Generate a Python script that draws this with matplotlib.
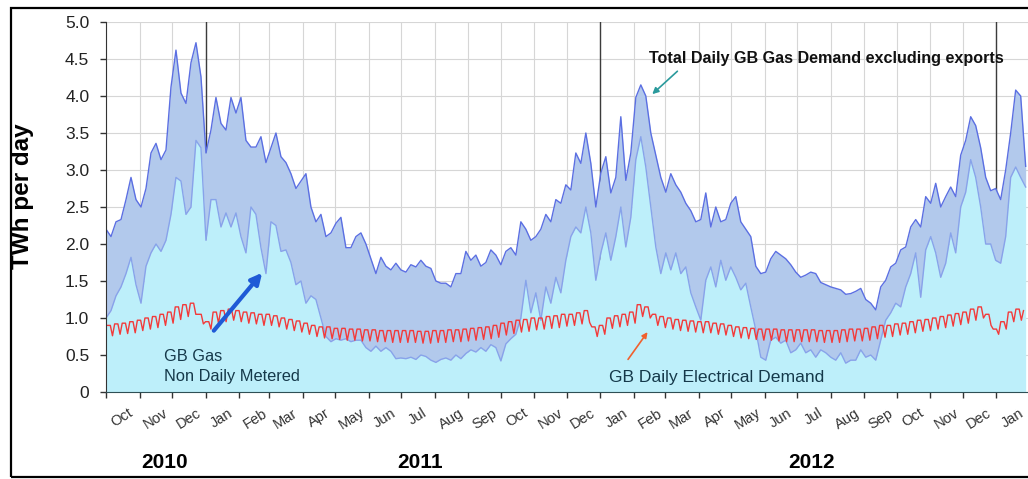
import matplotlib
matplotlib.use("Agg")
import matplotlib.pyplot as plt
import matplotlib.dates as mdates
from matplotlib.patches import Rectangle
from matplotlib.ticker import NullFormatter
import numpy as np
import pandas as pd

plt.rcParams.update({
    "font.family": ["Liberation Sans", "DejaVu Sans"],
    "font.size": 11,
})

# gas series at even steps from 1 Oct 2010 to 28 Jan 2013
gas_start = "2010-10-01"
gas_end = "2013-01-28"

total_demand = [
    2.2, 2.1, 2.3, 2.33, 2.6, 2.9, 2.6, 2.5, 2.75, 3.23,
    3.36, 3.14, 3.27, 4.12, 4.62, 4.04, 3.9, 4.45, 4.72, 4.26,
    3.23, 3.54, 3.98, 3.63, 3.54, 3.98, 3.77, 3.98, 3.4, 3.31,
    3.31, 3.45, 3.1, 3.3, 3.5, 3.18, 3.1, 2.95, 2.75, 2.85,
    2.95, 2.5, 2.3, 2.4, 2.1, 2.15, 2.28, 2.36, 1.95, 1.95,
    2.1, 2.15, 2.0, 1.8, 1.6, 1.82, 1.7, 1.65, 1.74, 1.65,
    1.62, 1.72, 1.69, 1.78, 1.7, 1.67, 1.5, 1.47, 1.47, 1.42,
    1.6, 1.6, 1.9, 1.78, 1.85, 1.7, 1.75, 1.92, 1.85, 1.72,
    1.9, 1.95, 1.85, 2.3, 2.2, 2.05, 2.1, 2.2, 2.4, 2.3,
    2.6, 2.55, 2.8, 2.73, 3.23, 3.09, 3.5, 3.09, 2.5, 2.96,
    3.18, 2.69, 2.9, 3.72, 2.86, 3.23, 3.98, 4.15, 4.0, 3.5,
    3.2, 2.9, 2.7, 2.95, 2.8, 2.7, 2.55, 2.45, 2.3, 2.33,
    2.69, 2.23, 2.5, 2.3, 2.33, 2.55, 2.64, 2.3, 2.2, 2.1,
    1.7, 1.6, 1.62, 1.8, 1.9, 1.85, 1.8, 1.72, 1.62, 1.55,
    1.58, 1.62, 1.6, 1.48, 1.45, 1.42, 1.4, 1.38, 1.32, 1.33,
    1.36, 1.4, 1.25, 1.2, 1.11, 1.42, 1.51, 1.69, 1.74, 1.92,
    1.96, 2.23, 2.33, 2.23, 2.64, 2.55, 2.82, 2.5, 2.64, 2.77,
    2.64, 3.2, 3.4, 3.72, 3.6, 3.3, 2.9, 2.72, 2.75, 2.6,
    3.0, 3.5, 4.08, 4.0, 3.05,
]

ndm_demand = [
    1.0, 1.1, 1.3, 1.42, 1.6, 1.82, 1.45, 1.2, 1.7, 1.88,
    2.0, 1.9, 2.05, 2.4, 2.9, 2.85, 2.4, 2.5, 3.4, 3.3,
    2.05, 2.6, 2.6, 2.23, 2.42, 2.23, 2.42, 2.1, 1.88, 2.5,
    2.4, 1.95, 1.6, 2.3, 2.25, 1.9, 1.92, 1.75, 1.45, 1.5,
    1.2, 1.3, 1.25, 1.0, 0.75, 0.68, 0.72, 0.7, 0.72, 0.68,
    0.7, 0.7, 0.6, 0.55, 0.62, 0.55, 0.6, 0.55, 0.45, 0.46,
    0.45, 0.47, 0.44, 0.5, 0.48, 0.43, 0.4, 0.44, 0.46, 0.43,
    0.5, 0.45, 0.52, 0.57, 0.54, 0.6, 0.55, 0.64, 0.6, 0.42,
    0.65, 0.72, 0.78, 1.0, 1.51, 1.07, 1.34, 0.97, 1.42, 1.2,
    1.55, 1.34, 1.78, 2.1, 2.23, 2.15, 2.5, 2.15, 1.51, 1.88,
    2.15, 1.78, 2.1, 2.5, 1.96, 2.36, 3.14, 3.45, 3.04, 2.5,
    1.96, 1.6, 1.88, 1.65, 1.88, 1.6, 1.69, 1.34, 1.15, 0.97,
    1.51, 1.69, 1.42, 1.78, 1.51, 1.69, 1.55, 1.38, 1.47, 1.15,
    0.84, 0.47, 0.43, 0.7, 0.74, 0.66, 0.7, 0.53, 0.57, 0.66,
    0.53, 0.57, 0.47, 0.57, 0.53, 0.47, 0.43, 0.53, 0.39, 0.43,
    0.43, 0.57, 0.47, 0.5, 0.43, 0.7, 0.97, 1.07, 1.2, 1.15,
    1.42, 1.6, 1.88, 1.28, 1.92, 2.1, 1.88, 1.55, 1.74, 2.15,
    1.88, 2.5, 2.7, 3.14, 2.9, 2.5, 2.0, 2.0, 1.78, 1.74,
    2.1, 2.9, 3.04, 2.9, 2.77,
]

# electrical demand: weekday level and weekend dip for each week from 1 Oct 2010
elec_week_high = [
    0.90, 0.92, 0.93, 0.95, 0.97,          # Oct 2010
    1.00, 1.02, 1.05, 1.08,                # Nov
    1.15, 1.18, 1.20, 1.05, 0.95,          # Dec
    1.08, 1.10, 1.12, 1.10,                # Jan 2011
    1.08, 1.07, 1.05, 1.05,                # Feb
    1.03, 1.00, 0.98, 0.96,                # Mar
    0.93, 0.90, 0.88, 0.88, 0.86,          # Apr
    0.86, 0.85, 0.85, 0.84,                # May
    0.84, 0.83, 0.83, 0.83,                # Jun
    0.83, 0.83, 0.82, 0.82, 0.83,          # Jul
    0.83, 0.84, 0.84, 0.85,                # Aug
    0.86, 0.87, 0.88, 0.90,                # Sep
    0.93, 0.95, 0.97, 0.98, 1.00,          # Oct
    1.00, 1.02, 1.03, 1.05,                # Nov
    1.05, 1.07, 1.10, 0.88, 0.90,          # Dec
    1.00, 1.03, 1.05, 1.08,                # Jan 2012
    1.18, 1.15, 1.05, 1.02,                # Feb
    1.00, 0.98, 0.97, 0.96, 0.95,          # Mar
    0.95, 0.93, 0.92, 0.90,                # Apr
    0.88, 0.87, 0.86, 0.85,                # May
    0.85, 0.85, 0.84, 0.84, 0.84,          # Jun
    0.84, 0.84, 0.83, 0.83,                # Jul
    0.83, 0.84, 0.85, 0.85, 0.86,          # Aug
    0.88, 0.90, 0.90, 0.92,                # Sep
    0.93, 0.95, 0.97, 0.98,                # Oct
    1.00, 1.02, 1.04, 1.06, 1.08,          # Nov
    1.12, 1.15, 1.05, 0.85,                # Dec
    0.95, 1.08, 1.12, 1.10,                # Jan 2013
]

elec_week_low = [
    0.76, 0.78, 0.79, 0.80, 0.83,
    0.85, 0.87, 0.90, 0.93,
    0.98, 1.02, 1.05, 0.92, 0.85,
    0.93, 0.95, 0.97, 0.95,
    0.93, 0.92, 0.90, 0.90,
    0.88, 0.85, 0.83, 0.81,
    0.78, 0.75, 0.73, 0.72, 0.71,
    0.70, 0.70, 0.69, 0.69,
    0.68, 0.68, 0.67, 0.67,
    0.67, 0.67, 0.66, 0.66, 0.67,
    0.67, 0.68, 0.68, 0.69,
    0.70, 0.71, 0.72, 0.74,
    0.77, 0.79, 0.81, 0.82, 0.84,
    0.85, 0.86, 0.87, 0.89,
    0.90, 0.92, 0.94, 0.75, 0.78,
    0.86, 0.88, 0.90, 0.93,
    1.02, 1.00, 0.90, 0.87,
    0.85, 0.83, 0.82, 0.81, 0.80,
    0.80, 0.78, 0.77, 0.75,
    0.73, 0.72, 0.71, 0.70,
    0.70, 0.69, 0.68, 0.68, 0.68,
    0.68, 0.68, 0.67, 0.67,
    0.67, 0.68, 0.69, 0.69, 0.70,
    0.72, 0.74, 0.75, 0.77,
    0.78, 0.80, 0.82, 0.83,
    0.85, 0.87, 0.89, 0.91, 0.93,
    0.97, 1.00, 0.90, 0.78,
    0.85, 0.95, 0.97, 0.96,
]

year_lines = ["2011-01-01", "2012-01-01", "2013-01-01"]
year_labels = ["2010", "2011", "2012"]
y_ticks = [0, 0.5, 1.0, 1.5, 2.0, 2.5, 3.0, 3.5, 4.0, 4.5, 5.0]
y_tick_labels = ["0", "0.5", "1.0", "1.5", "2.0", "2.5", "3.0", "3.5", "4.0", "4.5", "5.0"]

# ---------------------------------------------------------------
gas_dates = pd.date_range(gas_start, gas_end, periods=len(total_demand))

week_starts = pd.date_range(gas_start, periods=len(elec_week_high), freq="7D")
elec_dates = []
elec_vals = []
for ws, hi, lo in zip(week_starts, elec_week_high, elec_week_low):
    for off, v in ((1, hi), (4, hi), (6, lo)):
        d = ws + pd.Timedelta(days=off)
        if d <= pd.Timestamp(gas_end):
            elec_dates.append(d)
            elec_vals.append(v)

W, H = 1028, 479
fig = plt.figure(figsize=(W / 100, H / 100), dpi=100)
ax = fig.add_axes([106 / W, 87 / H, 924 / W, 370 / H])

cyan = "#bdeffa"
steel = "#b2c9ec"

ax.fill_between(gas_dates, 0, ndm_demand, color=cyan, lw=0, zorder=2)
ax.fill_between(gas_dates, ndm_demand, total_demand, color=steel, lw=0, zorder=2)
ax.plot(gas_dates, ndm_demand, color="#87a3ea", lw=1.0, zorder=3)
ax.plot(gas_dates, total_demand, color="#5b6fe2", lw=1.0, zorder=3)
ax.plot(elec_dates, elec_vals, color="#f23a3a", lw=1.0, zorder=4)

for d in year_lines:
    ax.axvline(pd.Timestamp(d), color="#3c3c3c", lw=1.0, zorder=1.5)

ax.set_xlim(pd.Timestamp("2010-10-01"), pd.Timestamp("2013-02-01"))
ax.set_ylim(0, 5)
ax.set_yticks(y_ticks)
ax.set_yticklabels(y_tick_labels)

ax.xaxis.set_major_locator(mdates.MonthLocator())
ax.xaxis.set_major_formatter(NullFormatter())
ax.xaxis.set_minor_locator(mdates.MonthLocator(bymonthday=16))
ax.xaxis.set_minor_formatter(mdates.DateFormatter("%b"))

ax.tick_params(axis="x", which="major", length=4, width=1, color="#333333", direction="out")
ax.tick_params(axis="x", which="minor", length=0, labelsize=10.5, labelcolor="#333333",
               labelrotation=32, pad=10)
ax.tick_params(axis="y", length=4, width=1, color="#333333", labelsize=12.5,
               labelcolor="#222222", pad=8)

ax.grid(which="major", color="#d6d6d6", lw=0.8, zorder=0)
ax.set_axisbelow(True)

for s in ("top", "right"):
    ax.spines[s].set_visible(False)
ax.spines["left"].set_color("#333333")
ax.spines["bottom"].set_color("#2f4f55")
ax.spines["left"].set_zorder(5)
ax.spines["bottom"].set_zorder(5)

# labels
fig.text(23 / W, 1 - 196 / H, "TWh per day", rotation=90, ha="center", va="center",
         fontsize=17.5, fontweight="bold")
for lbl, xp in zip(year_labels, (165, 420, 812)):
    fig.text(xp / W, 1 - 463 / H, lbl, ha="center", va="center",
             fontsize=15, fontweight="bold")

dn = lambda s: mdates.date2num(pd.Timestamp(s))

ax.text(dn("2012-02-15"), 4.5, "Total Daily GB Gas Demand excluding exports",
        fontsize=11.6, fontweight="bold", color="#111111", va="center", ha="left", zorder=6)
ax.annotate("", xy=(dn("2012-02-16"), 4.0), xytext=(dn("2012-03-14"), 4.36),
            arrowprops=dict(arrowstyle="-|>", color="#2a9a9c", lw=1.2,
                            mutation_scale=9), zorder=6)

ax.text(dn("2010-11-24"), 0.345, "GB Gas\nNon Daily Metered", fontsize=11.8,
        color="#15394a", va="center", ha="left", linespacing=1.45, zorder=6)
ax.annotate("", xy=(dn("2011-02-24"), 1.64), xytext=(dn("2011-01-07"), 0.8),
            arrowprops=dict(arrowstyle="-|>", color="#1f5ad6", lw=3,
                            mutation_scale=16), zorder=6)

ax.text(dn("2012-01-09"), 0.19, "GB Daily Electrical Demand", fontsize=12.6,
        color="#15394a", va="center", ha="left", zorder=6)
ax.annotate("", xy=(dn("2012-02-15"), 0.84), xytext=(dn("2012-01-25"), 0.41),
            arrowprops=dict(arrowstyle="-|>", color="#f0602e", lw=1.2,
                            mutation_scale=8), zorder=6)

# outer frame of the picture
fig.patches.append(Rectangle((11 / W, 2 / H), 1.2, 469 / H, transform=fig.transFigure,
                             fill=False, edgecolor="black", lw=1.6))

fig.savefig("out.png", dpi=100)
